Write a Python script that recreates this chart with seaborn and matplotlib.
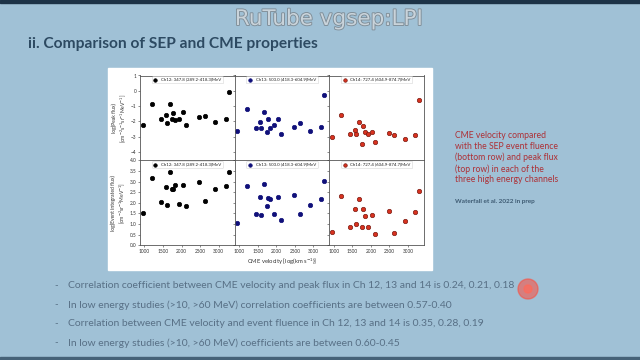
import numpy as np
import pandas as pd
import seaborn as sns
import matplotlib.pyplot as plt
import matplotlib.patheffects as pe
from matplotlib.patches import Rectangle, Ellipse
from matplotlib.ticker import FormatStrFormatter

sns.set_style('ticks')
plt.rcParams['font.family'] = ['Lato', 'DejaVu Sans']

# CME speeds of the 17 events (same for every panel)
cme_velocity = [950, 1200, 1450, 1570, 1600, 1680, 1750, 1780, 1830,
                1930, 2040, 2120, 2480, 2630, 2910, 3200, 3290]

# log peak flux, top row
peak_ch12 = [-2.26, -0.87, -1.87, -1.61, -2.08, -0.89, -1.87, -1.43, -1.91,
             -1.82, -1.39, -2.26, -1.69, -1.63, -2.04, -1.87, -0.11]
peak_ch13 = [-2.63, -1.20, -2.41, -2.02, -2.46, -1.37, -2.72, -1.82, -2.41,
             -2.26, -1.87, -2.83, -2.34, -2.11, -2.63, -2.34, -0.26]
peak_ch14 = [-3.00, -1.61, -2.80, -2.54, -2.85, -2.04, -3.45, -2.28, -2.72,
             -2.80, -2.72, -3.32, -2.78, -2.87, -3.17, -2.87, -0.61]

# log event integrated flux, bottom row
fluence_ch12 = [1.52, 3.18, 2.02, 2.73, 1.88, 3.44, 2.67, 2.67, 2.83,
                1.94, 2.83, 1.85, 2.97, 2.10, 2.67, 2.78, 3.44]
fluence_ch13 = [1.07, 2.78, 1.48, 2.26, 1.45, 2.91, 1.86, 2.21, 2.16,
                1.48, 2.26, 1.20, 2.37, 1.48, 1.88, 2.20, 3.05]
fluence_ch14 = [0.62, 2.31, 0.84, 1.71, 0.98, 2.20, 0.84, 1.72, 1.37,
                0.88, 1.44, 0.54, 1.63, 0.57, 1.15, 1.57, 2.58]

channel_labels = ['Ch12: 347.8 (289.2-418.3)MeV',
                  'Ch13: 503.0 (418.3-604.9)MeV',
                  'Ch14: 727.4 (604.9-874.7)MeV']
channel_colors = ['black', '#10107a', '#d8321f']
channel_edges = ['black', '#10107a', '#7a1a10']

bullets = [
    'Correlation coefficient between CME velocity and peak flux in Ch 12, 13 and 14 is 0.24, 0.21, 0.18',
    'In low energy studies (>10, >60 MeV) correlation coefficients are between 0.57-0.40',
    'Correlation between CME velocity and event fluence in Ch 12, 13 and 14 is 0.35, 0.28, 0.19',
    'In low energy studies (>10, >60 MeV) coefficients are between 0.60-0.45',
]

bg = '#a0c1d6'
fig = plt.figure(figsize=(6.4, 3.6), dpi=100, facecolor=bg)

# slide frame strips
fig.patches.append(Rectangle((0, 0.991), 1, 0.009, transform=fig.transFigure,
                             color='#1d3347', zorder=-10))
fig.patches.append(Rectangle((0, 0), 1, 3 / 360, transform=fig.transFigure,
                             color='#466278', zorder=-10))
# white box behind the figure
fig.patches.append(Rectangle((108 / 640, 1 - 270 / 360), 324 / 640, 202 / 360,
                             transform=fig.transFigure, color='white', zorder=-10))

fig.text(329 / 640, 1 - 19 / 360, 'RuTube vgsep:LPI', ha='center', va='center',
         fontsize=15.5, color='#c9d3da', family=['DejaVu Sans'],
         path_effects=[pe.withStroke(linewidth=1.3, foreground='#7f8d97')])
fig.text(28 / 640, 1 - 44 / 360, 'ii. Comparison of SEP and CME properties',
         ha='left', va='center', fontsize=11.2, fontweight='bold', color='#2d4a62')

gs = fig.add_gridspec(2, 3, left=140 / 640, right=424 / 640,
                      top=1 - 75.5 / 360, bottom=1 - 245.3 / 360,
                      wspace=0, hspace=0)

rows = [[peak_ch12, peak_ch13, peak_ch14],
        [fluence_ch12, fluence_ch13, fluence_ch14]]

for r in range(2):
    for c in range(3):
        ax = fig.add_subplot(gs[r, c])
        df = pd.DataFrame({'v': cme_velocity, 'y': rows[r][c]})
        sns.scatterplot(data=df, x='v', y='y', ax=ax, s=10,
                        color=channel_colors[c], edgecolor=channel_edges[c],
                        linewidth=0.5, label=channel_labels[c])
        ax.set_xlim(880, 3430)
        if r == 0:
            ax.set_ylim(-4.55, 1)
            ax.set_yticks(np.arange(-4, 2, 1))
            ax.tick_params(axis='x', labelbottom=False)
        else:
            ax.set_ylim(0, 4)
            ax.set_yticks(np.arange(0, 4.5, 0.5))
            ax.yaxis.set_major_formatter(FormatStrFormatter('%.1f'))
        ax.set_xticks(np.arange(1000, 3500, 500))
        if c > 0:
            ax.tick_params(axis='y', labelleft=False)
        ax.tick_params(labelsize=3.4, length=1.5, width=0.4, pad=1,
                       colors='#333333')
        for sp in ax.spines.values():
            sp.set_color('#555555')
            sp.set_linewidth(0.6)
        ax.set_xlabel('')
        ax.set_ylabel('')
        leg = ax.legend(loc='upper center', fontsize=3.2, frameon=True,
                        handletextpad=0.8, borderpad=0.35, borderaxespad=0.15,
                        markerscale=0.8, handlelength=1.0)
        leg.get_frame().set_linewidth(0.4)
        leg.get_frame().set_edgecolor('#cccccc')
        if c == 0 and r == 0:
            ax.set_ylabel('log(Peak flux)\n[cm$^{-2}$s$^{-1}$sr$^{-1}$MeV$^{-1}$]',
                          fontsize=3.6, labelpad=2, color='#333333')
        if c == 0 and r == 1:
            ax.set_ylabel('log(Event integrated flux)\n[cm$^{-2}$sr$^{-1}$MeV$^{-1}$]',
                          fontsize=3.6, labelpad=2, color='#333333')
        if c == 1 and r == 1:
            ax.set_xlabel('CME velocity [log(km s$^{-1}$)]', fontsize=4.2,
                          labelpad=2, color='#333333')

# caption on the right
fig.text(455 / 640, 1 - 131 / 360,
         'CME velocity compared\nwith the SEP event fluence\n(bottom row) and peak flux\n'
         '(top row) in each of the\nthree high energy channels',
         ha='left', va='top', fontsize=6.2, color='#ad3036', linespacing=1.25)
fig.text(455 / 640, 1 - 202 / 360, 'Waterfall et al. 2022 in prep', ha='left',
         va='center', fontsize=4.6, fontweight='bold', color='#3d5a72')

bullet_y = [286, 305, 324, 343]
for txt, yy in zip(bullets, bullet_y):
    fig.text(54 / 640, 1 - yy / 360, '-', ha='left', va='center', fontsize=7,
             color='#587086')
    fig.text(68 / 640, 1 - yy / 360, txt, ha='left', va='center', fontsize=7.5,
             color='#587086')

# laser pointer spot
fig.patches.append(Ellipse((528 / 640, 1 - 289 / 360), 20 / 640, 20 / 360,
                           transform=fig.transFigure, color='#ff4a3a',
                           alpha=0.55, zorder=5))
fig.patches.append(Ellipse((528 / 640, 1 - 289 / 360), 8 / 640, 8 / 360,
                           transform=fig.transFigure, color='#ff6a5a',
                           alpha=0.7, zorder=6))

fig.savefig('out.png', dpi=100, facecolor=bg)
